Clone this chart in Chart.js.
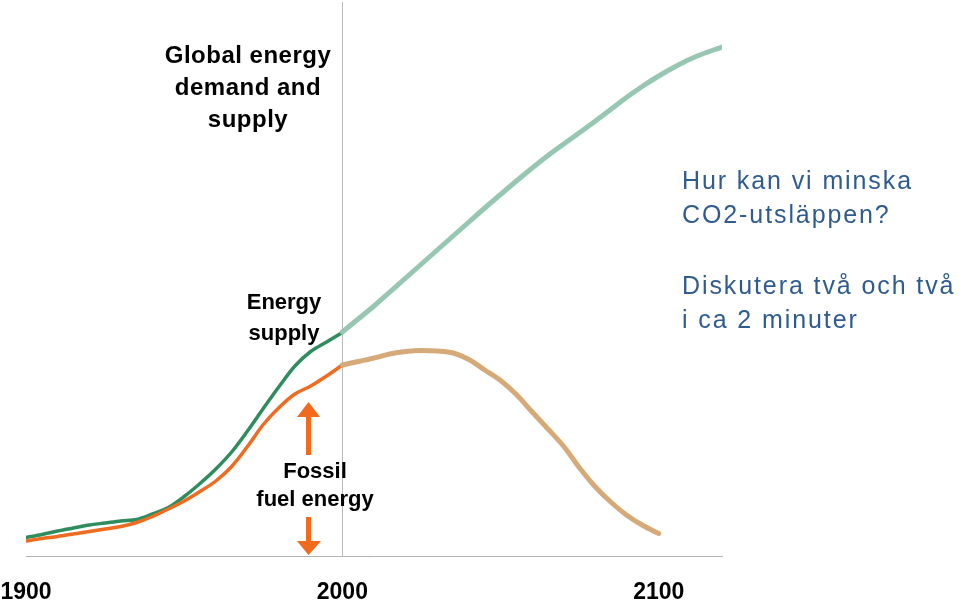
<!DOCTYPE html>
<html>
<head>
<meta charset="utf-8">
<script src="https://cdn.jsdelivr.net/npm/chart.js@4.4.1/dist/chart.umd.min.js"></script>
<style>
  html, body { margin: 0; padding: 0; background: #ffffff; }
  #wrap { position: relative; width: 960px; height: 603px; overflow: hidden; }
  #c { position: absolute; left: 0; top: 0; }
  .lbl { position: absolute; font-family: "Liberation Sans", Arial, sans-serif; white-space: nowrap; }
  .blk { color: #000; font-weight: bold; text-align: center; }
  .blue { color: #2f5b8f; font-size: 25px; line-height: 34px; letter-spacing: 1.9px; }
  svg { position: absolute; left: 0; top: 0; }
</style>
</head>
<body>
<div id="wrap">
  <canvas id="c" width="960" height="603"></canvas>
  <svg width="960" height="603" viewBox="0 0 960 603">
    <polygon points="297,417 308.5,402 320,417" fill="#f26a1c"/>
    <rect x="306" y="416" width="5" height="39" fill="#f26a1c"/>
    <rect x="306" y="517" width="5" height="25" fill="#f26a1c"/>
    <polygon points="297,541 308.5,555 321,541" fill="#f26a1c"/>
  </svg>
  <div class="lbl blk" style="left:148px; width:200px; top:38.7px; font-size:24px; line-height:32px; letter-spacing:0.5px;">Global energy<br>demand and<br>supply</div>
  <div class="lbl blk" style="left:209px; width:150px; top:286px; font-size:22px; line-height:31px;">Energy<br>supply</div>
  <div class="lbl blk" style="left:240px; width:150px; top:456.5px; font-size:22px; line-height:28.4px;">Fossil<br>fuel energy</div>
  <div class="lbl blue" style="left:682px; top:162.5px;">Hur kan vi minska<br>CO2-utsläppen?</div>
  <div class="lbl blue" style="left:682px; top:268px;">Diskutera två och två<br>i ca 2 minuter</div>
</div>
<script>
// ---- data (arbitrary energy units) ----
const yearsHistory = [1900,1905,1910,1915,1920,1925,1930,1935,1940,1945,1950,1955,1960,1965,1970,1975,1980,1985,1990,1995,2000];
const supplyHistory = [3.7,4.3,5.0,5.6,6.2,6.6,7.0,7.3,8.4,9.7,11.9,14.5,17.4,20.8,25.0,29.5,33.9,38.0,40.9,42.8,44.7];
const fossilHistory = [3.0,3.5,3.9,4.4,4.9,5.4,5.9,6.7,7.9,9.4,11.0,12.9,15.0,17.9,21.9,26.3,29.7,32.4,34.0,36.0,38.2];

const yearsSupplyFuture = [2000,2005,2010,2015,2020,2025,2030,2035,2040,2045,2050,2055,2060,2065,2070,2075,2080,2085,2090,2095,2100,2105,2110,2115,2120];
const supplyFuture = [44.8,47.4,50.0,52.8,55.6,58.4,61.2,64.0,66.8,69.6,72.3,75.0,77.6,80.1,82.4,84.7,87.0,89.4,91.8,94.0,96.0,97.8,99.4,100.7,101.8];

const yearsFossilFuture = [2000,2005,2010,2015,2020,2025,2030,2035,2040,2045,2050,2055,2060,2065,2070,2075,2080,2085,2090,2095,2100];
const fossilFuture = [38.2,38.9,39.6,40.4,40.9,41.1,41.0,40.6,39.3,37.2,35.1,32.3,28.8,25.4,21.9,17.6,13.8,10.7,8.1,6.1,4.5];

const xTickYears = [1900, 2000, 2100];

const pts = (xs, ys) => xs.map((x, i) => ({ x: x, y: ys[i] }));

const base = { pointRadius: 0, pointHoverRadius: 0, fill: false, cubicInterpolationMode: 'monotone', borderCapStyle: 'round', borderJoinStyle: 'round' };

new Chart(document.getElementById('c'), {
  type: 'line',
  data: {
    datasets: [
      Object.assign({ label: 'Fossil fuel energy (future)', data: pts(yearsFossilFuture, fossilFuture), borderColor: '#d6aa78', borderWidth: 5 }, base),
      Object.assign({ label: 'Energy supply (future)', data: pts(yearsSupplyFuture, supplyFuture), borderColor: '#97c7b3', borderWidth: 5 }, base),
      Object.assign({ label: 'Fossil fuel energy', data: pts(yearsHistory, fossilHistory), borderColor: '#ef6b1f', borderWidth: 3.5 }, base),
      Object.assign({ label: 'Energy supply', data: pts(yearsHistory, supplyHistory), borderColor: '#2e8c5e', borderWidth: 3.5 }, base)
    ]
  },
  options: {
    responsive: false,
    animation: false,
    events: [],
    layout: { padding: { top: 2, left: 26, right: 238, bottom: 0 } },
    plugins: { legend: { display: false }, tooltip: { enabled: false }, title: { display: false } },
    scales: {
      x: {
        type: 'linear',
        min: 1900,
        max: 2120,
        afterBuildTicks: (scale) => { scale.ticks = xTickYears.map(v => ({ value: v })); },
        afterFit: (scale) => { scale.height = 47; scale.paddingLeft = 0; scale.paddingRight = 0; },
        ticks: {
          color: '#000000',
          font: { family: "'Liberation Sans', Arial, sans-serif", size: 23, weight: 'bold', lineHeight: 1.2 },
          padding: 22.4,
          maxRotation: 0,
          autoSkip: false,
          callback: (v) => String(v)
        },
        grid: {
          drawTicks: false,
          lineWidth: 1,
          color: (ctx) => (ctx.tick && ctx.tick.value === 2000) ? '#b9b9b9' : 'rgba(0,0,0,0)'
        },
        border: { display: true, color: '#b4b4b4', width: 1 }
      },
      y: {
        display: false,
        min: 0,
        max: 110.8
      }
    }
  }
});
</script>
</body>
</html>
